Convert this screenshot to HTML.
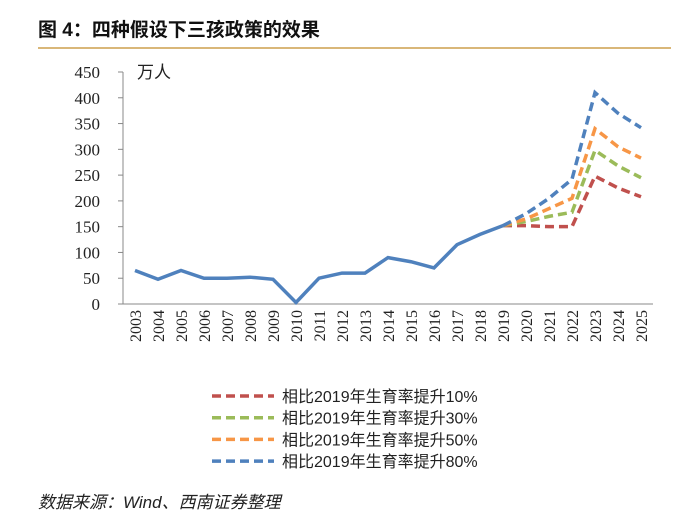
<!DOCTYPE html>
<html><head><meta charset="utf-8"><style>
body{margin:0;background:#fff;width:700px;height:507px;overflow:hidden;font-family:"Liberation Serif","Noto Serif CJK SC",serif}
</style></head><body>
<div style="position:absolute;left:38px;top:15px;font:bold 19px 'Liberation Sans','Noto Sans CJK SC',sans-serif;color:#111">图 4：四种假设下三孩政策的效果</div>
<div style="position:absolute;left:38px;top:47px;width:633px;height:2px;background:#d9b779"></div>
<svg id="c" width="700" height="507" style="position:absolute;left:0;top:0"></svg>
<div style="position:absolute;left:38px;top:488px;font:italic 17px 'Liberation Sans','Noto Sans CJK SC',sans-serif;color:#222">数据来源：Wind、西南证券整理</div>
<script>
const years=[2003,2004,2005,2006,2007,2008,2009,2010,2011,2012,2013,2014,2015,2016,2017,2018,2019,2020,2021,2022,2023,2024,2025];
const actual=[65,48,65,50,50,52,48,3,50,60,60,90,82,70,115,135,152];
const s10=[152,152,150,150,248,225,208];
const s30=[152,160,170,178,298,268,245];
const s50=[152,165,185,205,340,305,283];
const s80=[152,175,205,242,410,370,342];
const yTicks=[0,50,100,150,200,250,300,350,400,450];
const labels=["相比2019年生育率提升10%","相比2019年生育率提升30%","相比2019年生育率提升50%","相比2019年生育率提升80%"];
const colors=["#c0504d","#9bbb59","#f79646","#4f81bd"];
const NS="http://www.w3.org/2000/svg",svg=document.getElementById('c');
const X=i=>135+i*(641-135)/22, Y=v=>304-v*(304-72)/450;
function mk(t,a,txt){const e=document.createElementNS(NS,t);for(const k in a)e.setAttribute(k,a[k]);if(txt!==undefined)e.textContent=txt;svg.appendChild(e);return e;}
let e=mk('line',{x1:123,y1:72,x2:123,y2:304,stroke:'#888'});

e=mk('line',{x1:123,y1:304,x2:653,y2:304,stroke:'#888'});

yTicks.forEach(v=>{const t=mk('text',{x:100,y:Y(v)+6,'text-anchor':'end','font-size':17,fill:'#222'},v);

mk('line',{x1:118,y1:Y(v),x2:123,y2:Y(v),stroke:'#888'});});
years.forEach((y,i)=>{const t=mk('text',{x:X(i)+6,y:310,'text-anchor':'end','font-size':16,fill:'#222',transform:`rotate(-90 ${X(i)+6} 310)`},y);
});
e=mk('text',{x:137,y:78,'font-size':17,fill:'#222','font-family':"'Liberation Sans','Noto Sans CJK SC',sans-serif"},'万人');

[s10,s30,s50,s80].forEach((s,k)=>{const p=mk('polyline',{points:s.map((v,i)=>X(16+i)+','+Y(v)).join(' '),fill:'none',stroke:colors[k],'stroke-width':3.5,'stroke-dasharray':'9 5'});
});
e=mk('polyline',{points:actual.map((v,i)=>X(i)+','+Y(v)).join(' '),fill:'none',stroke:'#4f81bd','stroke-width':3.5});

labels.forEach((l,k)=>{const y=396+k*21.7;
const ln=mk('line',{x1:212,y1:y,x2:274,y2:y,stroke:colors[k],'stroke-width':3.5,'stroke-dasharray':'9 5'});

const t=mk('text',{x:282,y:y+6,'font-size':16,fill:'#222','font-family':"'Liberation Sans','Noto Sans CJK SC',sans-serif"},l);
});
</script>
</body></html>
